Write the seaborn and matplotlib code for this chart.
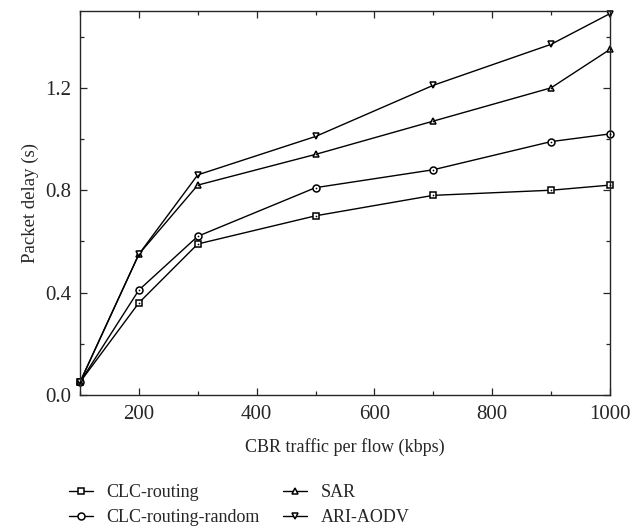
import matplotlib
matplotlib.use("Agg")
import matplotlib.pyplot as plt
import seaborn as sns
import pandas as pd
from matplotlib.ticker import MultipleLocator, FormatStrFormatter

# data
traffic = [100, 200, 300, 500, 700, 900, 1000]
clc_routing = [0.05, 0.36, 0.59, 0.70, 0.78, 0.80, 0.82]
clc_random = [0.05, 0.41, 0.62, 0.81, 0.88, 0.99, 1.02]
sar = [0.05, 0.55, 0.82, 0.94, 1.07, 1.20, 1.35]
ari_aodv = [0.05, 0.55, 0.86, 1.01, 1.21, 1.37, 1.49]

series_names = ["CLC-routing", "CLC-routing-random", "SAR", "ARI-AODV"]
series_values = [clc_routing, clc_random, sar, ari_aodv]
markers = ["s", "o", "^", "v"]
marker_sizes = [7.5, 8.5, 9.5, 9.5]

sns.set_style("ticks")
plt.rcParams["font.family"] = ["Liberation Serif", "DejaVu Serif"]

fig = plt.figure(figsize=(6.42, 5.27), dpi=100)
ax = fig.add_axes([0.1246, 0.2505, 0.8254, 0.7285])

for name, vals, mk, ms in zip(series_names, series_values, markers, marker_sizes):
    df = pd.DataFrame({"x": traffic, "y": vals})
    sns.lineplot(data=df, x="x", y="y", ax=ax, color="black", linewidth=1.0,
                 marker=mk, markersize=ms, markerfacecolor="white",
                 markeredgecolor="black", markeredgewidth=1.1, label=name,
                 clip_on=False)
    # small dot in the centre of each hollow marker
    sns.scatterplot(data=df, x="x", y="y", ax=ax, color="black", s=1.5,
                    linewidth=0, legend=False, clip_on=False, zorder=5)

ax.set_xlim(100, 1000)
ax.set_ylim(0, 1.5)
ax.xaxis.set_major_locator(MultipleLocator(200))
ax.xaxis.set_minor_locator(MultipleLocator(100))
ax.yaxis.set_major_locator(MultipleLocator(0.4))
ax.yaxis.set_minor_locator(MultipleLocator(0.2))
ax.yaxis.set_major_formatter(FormatStrFormatter("%.1f"))
ax.tick_params(which="both", direction="in", top=True, right=True, labelsize=15)
ax.tick_params(axis="x", pad=7)
ax.tick_params(axis="y", pad=6)
ax.tick_params(which="major", length=5, width=0.9)
ax.tick_params(which="minor", length=3, width=0.9)
for sp in ax.spines.values():
    sp.set_linewidth(1.0)
ax.set_xlabel("CBR traffic per flow (kbps)", fontsize=13, labelpad=10)
ax.set_ylabel("Packet delay (s)", fontsize=13.5, labelpad=5)

handles, labels = ax.get_legend_handles_labels()
ax.get_legend().remove()
for h in handles:
    h.set_markersize(5)
fig.legend(handles, labels, loc="upper left", bbox_to_anchor=(0.097, 0.095),
           ncol=2, frameon=False, fontsize=13, handlelength=1.3,
           handletextpad=0.75, columnspacing=1.3, labelspacing=0.45,
           borderaxespad=0)

fig.savefig("out.png", dpi=100)
